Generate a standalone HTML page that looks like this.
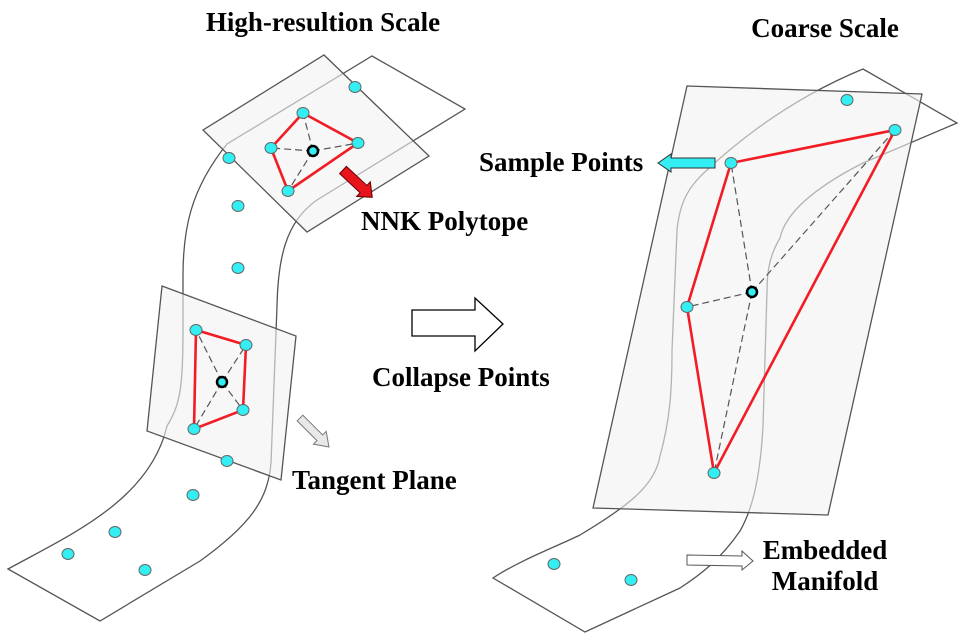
<!DOCTYPE html>
<html><head><meta charset="utf-8"><style>
html,body{margin:0;padding:0;background:#fff}
svg{display:block}
text{font-family:"Liberation Serif",serif;font-weight:bold;font-size:27px;fill:#000}
</style></head><body>
<svg width="966" height="642" viewBox="0 0 966 642" xmlns="http://www.w3.org/2000/svg">
<defs>
<g id="d"><ellipse rx="6" ry="5.5" fill="#33eef2" stroke="#666" stroke-width="1"/></g>
</defs>
<path d="M372,56 L465,109 L317,200 C285,222 278,260 277,306 L271,463 C268,500 250,525 200,561 C160,585 130,603 100,621 L8,569 C70,535 150,500 167,426 C180,405 183,388 183,330 L183,276 C183,230 190,190 227,144 Z" fill="none" stroke="#555" stroke-width="1.3"/>
<polygon points="203,130 324,55 429,156 307,232" fill="rgba(242,242,242,0.6)" stroke="#555" stroke-width="1.3"/>
<polygon points="162,286 296,336 281,480 147,431" fill="rgba(242,242,242,0.6)" stroke="#555" stroke-width="1.3"/>
<g stroke="#555" stroke-width="1.2" stroke-dasharray="7,4" fill="none">
<line x1="313" y1="151" x2="303" y2="113"/><line x1="313" y1="151" x2="358" y2="143"/><line x1="313" y1="151" x2="288" y2="191"/><line x1="313" y1="151" x2="271" y2="148"/>
<line x1="222" y1="382" x2="196" y2="330"/><line x1="222" y1="382" x2="246" y2="345"/><line x1="222" y1="382" x2="243" y2="410"/><line x1="222" y1="382" x2="194" y2="429"/>
</g>
<polygon points="303,113 358,143 288,191 271,148" fill="none" stroke="#f21c24" stroke-width="2.6"/>
<polygon points="196,330 246,345 243,410 194,429" fill="none" stroke="#f21c24" stroke-width="2.6"/>
<use href="#d" x="355" y="87"/><use href="#d" x="229" y="158"/><use href="#d" x="238" y="206"/><use href="#d" x="238" y="268"/>
<use href="#d" x="227" y="461"/><use href="#d" x="193" y="495"/><use href="#d" x="115" y="532"/><use href="#d" x="68" y="554"/><use href="#d" x="145" y="570"/>
<use href="#d" x="303" y="113"/><use href="#d" x="358" y="143"/><use href="#d" x="288" y="191"/><use href="#d" x="271" y="148"/>
<use href="#d" x="196" y="330"/><use href="#d" x="246" y="345"/><use href="#d" x="243" y="410"/><use href="#d" x="194" y="429"/>
<circle cx="313" cy="151" r="5" fill="#33eef2" stroke="#000" stroke-width="2.5"/>
<circle cx="222" cy="382" r="5" fill="#33eef2" stroke="#000" stroke-width="2.5"/>
<g transform="translate(343,170) rotate(43)">
<polygon points="0,-5 28,-5 28,-10 40,0 28,10 28,5 0,5" fill="#e8141c" stroke="#600" stroke-width="1"/>
</g>
<g transform="translate(300,418) rotate(45)">
<polygon points="0,-4 28,-4 28,-9 41,0 28,9 28,4 0,4" fill="#e8e8e8" stroke="#777" stroke-width="1"/>
</g>
<polygon points="412,310 475,310 475,298 503,324 475,351 475,336 412,336" fill="#fff" stroke="#000" stroke-width="1.3"/>
<path d="M863,69 L957,123 L863,163 C810,190 785,215 780,238 C770,255 767,270 767,291 L763,426 C760,480 752,510 740,531 C720,560 700,575 680,588 L585,632 L493,578 C520,560 560,545 580,535 C630,505 655,485 660,456 C670,420 672,390 672,351 L677,230 C680,200 690,185 707,170 C750,130 800,95 863,69 Z" fill="none" stroke="#555" stroke-width="1.3"/>
<polygon points="687,86 922,94 828,515 593,508" fill="rgba(242,242,242,0.6)" stroke="#555" stroke-width="1.3"/>
<g stroke="#555" stroke-width="1.2" stroke-dasharray="7,4" fill="none">
<line x1="752" y1="292" x2="731" y2="163"/><line x1="752" y1="292" x2="895" y2="130"/><line x1="752" y1="292" x2="714" y2="473"/><line x1="752" y1="292" x2="687" y2="307"/>
</g>
<polygon points="731,163 895,130 714,473 687,307" fill="none" stroke="#f21c24" stroke-width="2.6"/>
<use href="#d" x="847" y="100"/><use href="#d" x="554" y="564"/><use href="#d" x="631" y="580"/>
<use href="#d" x="731" y="163"/><use href="#d" x="895" y="130"/><use href="#d" x="714" y="473"/><use href="#d" x="687" y="307"/>
<circle cx="752" cy="292" r="5" fill="#33eef2" stroke="#000" stroke-width="2.5"/>
<polygon points="715,158 671,158 671,154 658,163 671,172 671,168 715,168" fill="#33eef2" stroke="#333" stroke-width="1"/>
<polygon points="687,555 742,556 742,551 753,561 742,570 742,566 687,565" fill="#fff" stroke="#555" stroke-width="1"/>
<text x="323" y="31" text-anchor="middle">High-resultion Scale</text>
<text x="825" y="37" text-anchor="middle">Coarse Scale</text>
<text x="361" y="230">NNK Polytope</text>
<text x="479" y="171">Sample Points</text>
<text x="372" y="386">Collapse Points</text>
<text x="292" y="489">Tangent Plane</text>
<text x="825" y="559" text-anchor="middle">Embedded</text>
<text x="825" y="590" text-anchor="middle">Manifold</text>
</svg>
</body></html>
